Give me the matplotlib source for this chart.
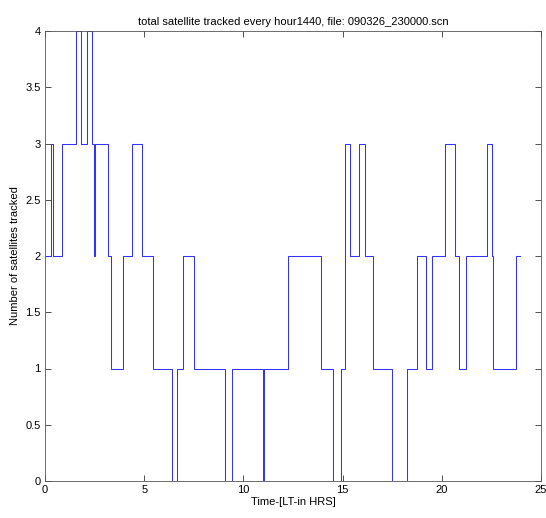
import matplotlib
matplotlib.use("Agg")
import matplotlib.pyplot as plt

# change times (hours) and the satellite count that starts at each time
times = [0.03, 0.29, 0.42, 0.87, 1.56, 1.81, 2.13, 2.39, 2.48, 2.50, 3.19, 3.25, 3.31,
         3.95, 4.40, 4.87, 5.46, 6.42, 6.64, 6.97, 7.53, 9.09, 9.44, 10.97, 11.03,
         12.23, 13.91, 14.50, 14.90, 15.14, 15.39, 15.81, 16.15, 16.52, 17.47, 18.25,
         18.73, 19.20, 19.52, 20.16, 20.65, 20.88, 21.22, 22.29, 22.51, 22.58, 23.74, 23.94]
counts = [2, 3, 2, 3, 4, 3, 4, 3, 2, 3, 2, 2, 1,
          2, 3, 2, 1, 0, 1, 2, 1, 0, 1, 0, 1,
          2, 1, 0, 1, 3, 2, 3, 2, 1, 0, 1,
          2, 1, 2, 3, 2, 1, 2, 3, 2, 1, 2, 2]

title = "total satellite tracked every hour1440, file: 090326_230000.scn"
xlabel = "Time-[LT-in HRS]"
ylabel = "Number of satellites tracked"
xticks = [0, 5, 10, 15, 20, 25]
yticks = [0, 0.5, 1, 1.5, 2, 2.5, 3, 3.5, 4]

plt.rcParams['font.family'] = ['Liberation Sans', 'DejaVu Sans']
fig = plt.figure(figsize=(5.46, 5.18), dpi=100)
ax = fig.add_axes([45/546, 37/518, 496/546, 450/518])
ax.step(times, counts, where='post', color='#3333ff', lw=0.75)
ax.set_xlim(0, 25)
ax.set_ylim(0, 4)
ax.set_xticks(xticks)
ax.set_yticks(yticks)
ax.set_yticklabels([f"{v:g}" for v in yticks])
ax.tick_params(direction='in', top=True, right=True, labelsize=8, length=4, width=0.6, colors='#333333', labelcolor='black', pad=3)
for s in ax.spines.values():
    s.set_linewidth(0.6)
    s.set_color('#555555')
ax.set_title(title, fontsize=8, pad=4)
ax.set_xlabel(xlabel, fontsize=8, labelpad=1)
ax.set_ylabel(ylabel, fontsize=8, labelpad=4)
fig.savefig("out.png", dpi=100)
